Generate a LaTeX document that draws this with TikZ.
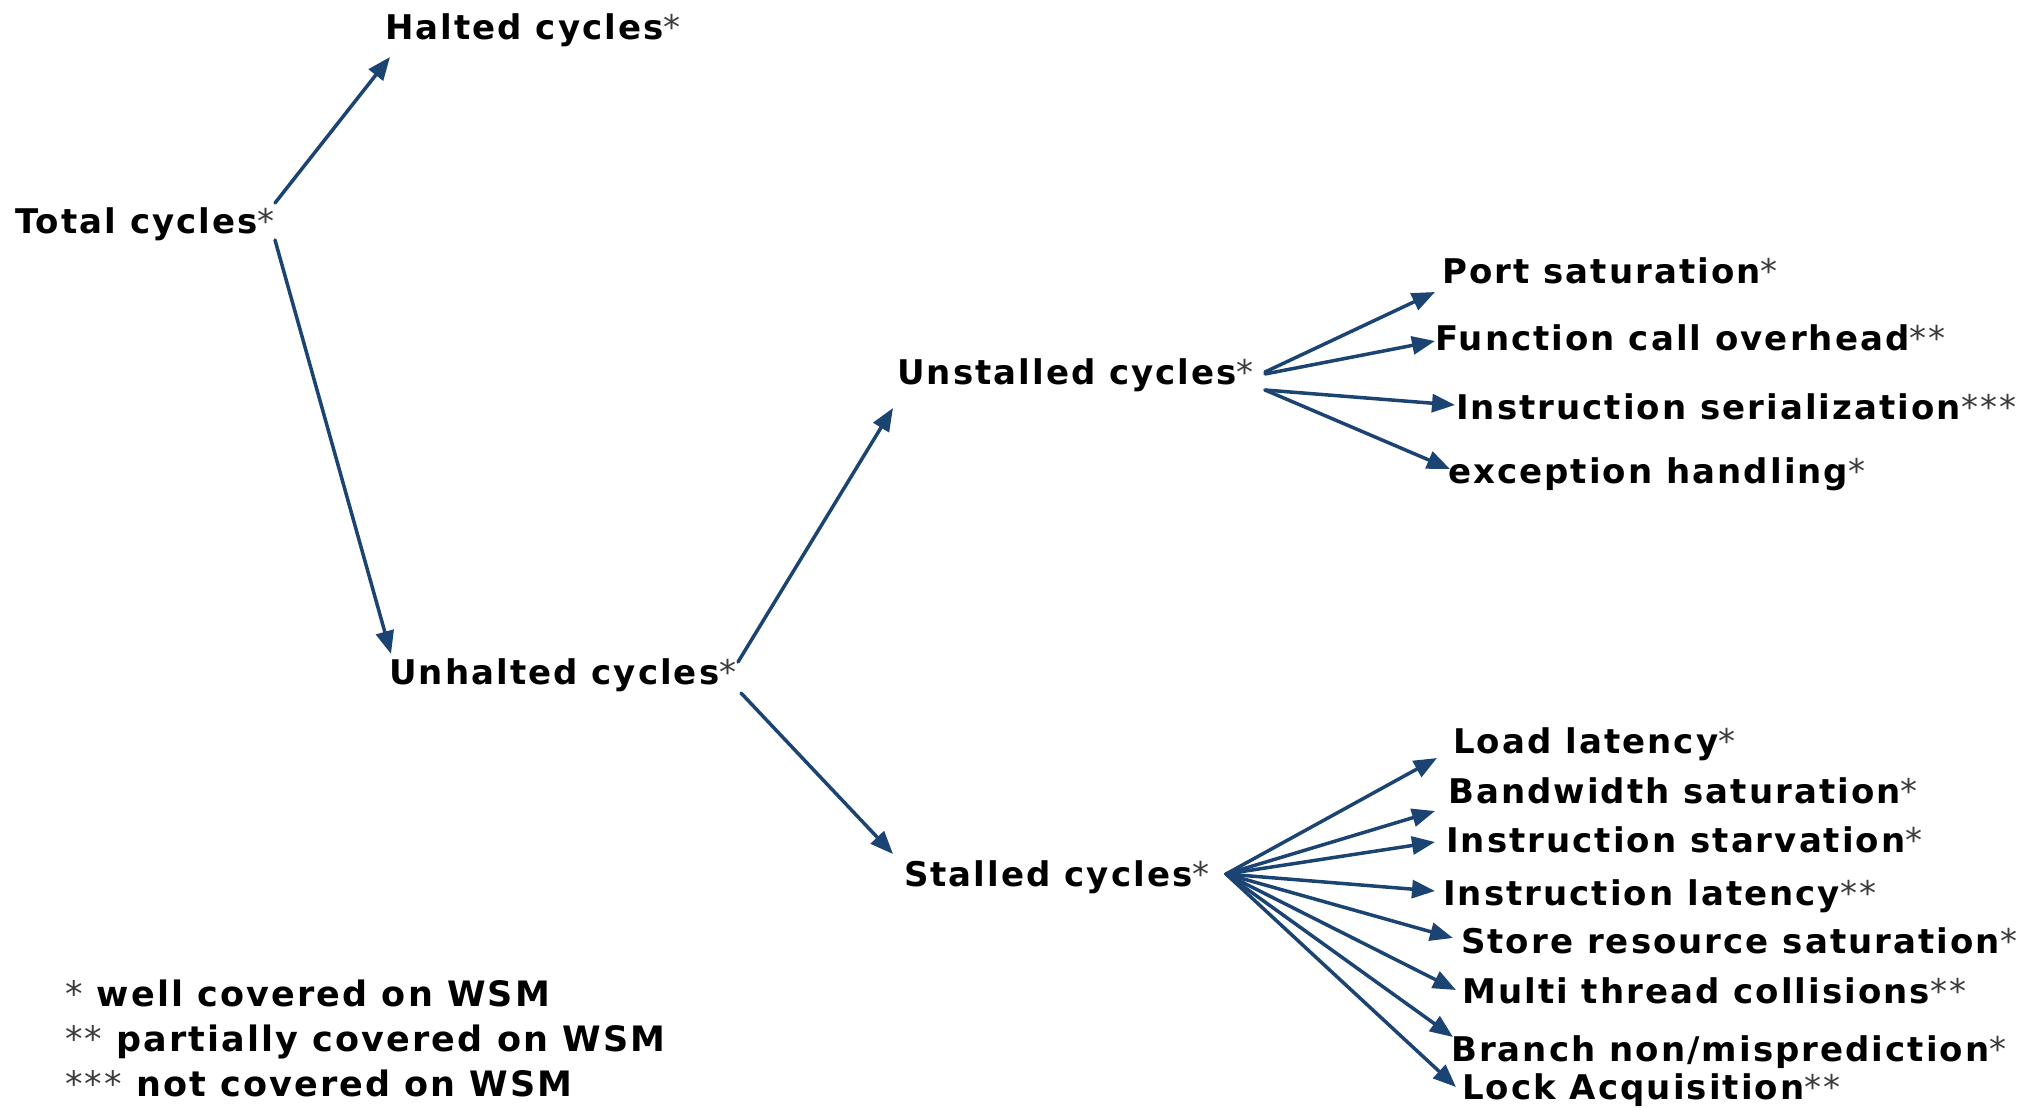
\documentclass[tikz,border=0pt]{standalone}
\usepackage{fontspec}
\usetikzlibrary{arrows.meta}
\newfontfamily\lblfont{DejaVu Sans}[LetterSpace=6]
\definecolor{arrowc}{RGB}{27,68,115}
\definecolor{starc}{RGB}{60,60,60}
\newcommand\stars[1]{{\mdseries\color{starc}#1}}
\tikzset{
  lbl/.style={inner sep=0pt, anchor=base west, text=black,
    font=\lblfont\bfseries\fontsize{34}{40}\selectfont},
  legend/.style={lbl, font=\lblfont\bfseries\fontsize{35}{42}\selectfont},
  conn/.style={draw=arrowc, line width=3.5pt, line cap=round,
    -{Triangle[length=23pt,width=18pt]}},
}
\begin{document}
\begin{tikzpicture}[x=1pt,y=-1pt]
\useasboundingbox (0,0) rectangle (2024,1108);
% main nodes
\node[lbl] (total)     at (15,233)  {Total cycles\stars{*}};
\node[lbl] (halted)    at (385,40)  {Halted cycles\stars{*}};
\node[lbl] (unhalted)  at (389,684) {Unhalted cycles\stars{*}};
\node[lbl] (unstalled) at (897,384) {Unstalled cycles\stars{*}};
\node[lbl] (stalled)   at (904,886) {Stalled cycles\stars{*}};
% unstalled children
\node[lbl] (port)   at (1442,283) {Port saturation\stars{*}};
\node[lbl] (func)   at (1435,350) {Function call overhead\stars{**}};
\node[lbl] (iser)   at (1456,419) {Instruction serialization\stars{***}};
\node[lbl] (exc)    at (1448,483) {exception handling\stars{*}};
% stalled children
\node[lbl] (load)   at (1453,753)  {Load latency\stars{*}};
\node[lbl] (band)   at (1448,803)  {Bandwidth saturation\stars{*}};
\node[lbl] (istarv) at (1446,852)  {Instruction starvation\stars{*}};
\node[lbl] (ilat)   at (1443,905)  {Instruction latency\stars{**}};
\node[lbl] (store)  at (1461,953)  {Store resource saturation\stars{*}};
\node[lbl] (multi)  at (1462,1003) {Multi thread collisions\stars{**}};
\node[lbl] (branch) at (1451,1061) {Branch non/misprediction\stars{*}};
\node[lbl] (lock)   at (1462,1099) {Lock Acquisition\stars{**}};
% legend
\node[legend] (leg1) at (65,1006) {\stars{*} well covered on WSM};
\node[legend] (leg2) at (65,1051) {\stars{**} partially covered on WSM};
\node[legend] (leg3) at (65,1096) {\stars{***} not covered on WSM};
% connectors
\draw[conn] ([shift={(260,-30)}]total.base west) -- ([shift={(5,17)}]halted.base west);
\draw[conn] ([shift={(260,7)}]total.base west) -- ([shift={(2,-30)}]unhalted.base west);
\draw[conn] ([shift={(349,-22)}]unhalted.base west) -- ([shift={(-4,24)}]unstalled.base west);
\draw[conn] ([shift={(352,9)}]unhalted.base west) -- ([shift={(-11,-32)}]stalled.base west);
\draw[conn] ([shift={(368,-12)}]unstalled.base west) -- ([shift={(-7,9)}]port.base west);
\draw[conn] ([shift={(368,-10)}]unstalled.base west) -- ([shift={(0,-9)}]func.base west);
\draw[conn] ([shift={(368,6)}]unstalled.base west) -- ([shift={(-1,-14)}]iser.base west);
\draw[conn] ([shift={(368,6)}]unstalled.base west) -- ([shift={(2,-14)}]exc.base west);
\draw[conn] ([shift={(322,-12)}]stalled.base west) -- ([shift={(-16,5)}]load.base west);
\draw[conn] ([shift={(322,-12)}]stalled.base west) -- ([shift={(-13,8)}]band.base west);
\draw[conn] ([shift={(322,-12)}]stalled.base west) -- ([shift={(-11,-10)}]istarv.base west);
\draw[conn] ([shift={(322,-12)}]stalled.base west) -- ([shift={(-8,-14)}]ilat.base west);
\draw[conn] ([shift={(322,-12)}]stalled.base west) -- ([shift={(-8,-15)}]store.base west);
\draw[conn] ([shift={(322,-12)}]stalled.base west) -- ([shift={(-6,-13)}]multi.base west);
\draw[conn] ([shift={(322,-12)}]stalled.base west) -- ([shift={(2,-24)}]branch.base west);
\draw[conn] ([shift={(322,-12)}]stalled.base west) -- ([shift={(-6,-12)}]lock.base west);
\end{tikzpicture}
\end{document}
